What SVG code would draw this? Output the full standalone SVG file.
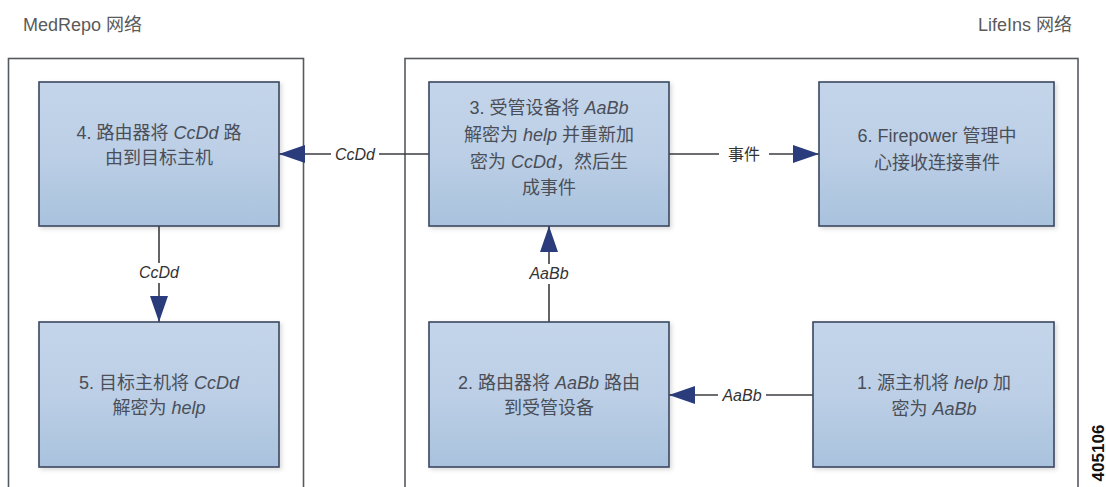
<svg xmlns="http://www.w3.org/2000/svg" width="1106" height="487" viewBox="0 0 1106 487">
<defs>
<linearGradient id="nodeFill" x1="0" y1="0" x2="0" y2="1">
<stop offset="0" stop-color="#c4d5ea"/>
<stop offset="0.5" stop-color="#bccfe6"/>
<stop offset="1" stop-color="#a9c2dd"/>
</linearGradient>
<filter id="sh" x="-5%" y="-5%" width="115%" height="115%">
<feDropShadow dx="2" dy="2" stdDeviation="2" flood-color="#000" flood-opacity="0.15"/>
</filter>
<marker id="arr" markerUnits="userSpaceOnUse" markerWidth="27" markerHeight="20" refX="26" refY="9" orient="auto">
<path d="M0,0 L26,9 L0,18 z" fill="#2a3c7c"/>
</marker>
</defs>
<style>
.cont{fill:#ffffff;stroke:#555a60;stroke-width:1.6}
.node{fill:url(#nodeFill);stroke:#3b4760;stroke-width:1.6;filter:url(#sh)}
.nt{font-family:"Liberation Sans","Noto Sans CJK SC",sans-serif;font-size:18px;fill:#4a4e58;text-anchor:middle}
.hd{font-family:"Liberation Sans","Noto Sans CJK SC",sans-serif;font-size:18px;fill:#5a5a5a}
.lbl{font-family:"Liberation Sans","Noto Sans CJK SC",sans-serif;font-size:16px;fill:#333;text-anchor:middle}
.it{font-style:italic}
.ln{stroke:#3a3d42;stroke-width:1.6;fill:none}
.bg{fill:#ffffff}
</style>
<rect width="1106" height="487" fill="#ffffff"/>

<g id="medrepo-network">
<rect class="cont" x="8.5" y="58.5" width="295" height="440"/>
<text class="hd" x="23" y="31">MedRepo 网络</text>
</g>
<g id="lifeins-network">
<rect class="cont" x="405" y="58.5" width="673" height="440"/>
<text class="hd" x="1072" y="31" text-anchor="end">LifeIns 网络</text>
</g>

<g id="connectors">
<line class="ln" x1="429" y1="154" x2="279" y2="154" marker-end="url(#arr)"/>
<rect class="bg" x="331" y="145" width="48" height="18"/>
<text class="lbl it" x="355" y="160">CcDd</text>

<line class="ln" x1="669" y1="154" x2="819" y2="154" marker-end="url(#arr)"/>
<rect class="bg" x="719" y="144" width="50" height="20"/>
<text class="lbl" x="744" y="160">事件</text>

<line class="ln" x1="159" y1="226" x2="159" y2="322" marker-end="url(#arr)"/>
<rect class="bg" x="134" y="263" width="50" height="20"/>
<text class="lbl it" x="159" y="278">CcDd</text>

<line class="ln" x1="549" y1="322" x2="549" y2="226" marker-end="url(#arr)"/>
<rect class="bg" x="524" y="264" width="50" height="20"/>
<text class="lbl it" x="549" y="279">AaBb</text>

<line class="ln" x1="813" y1="395" x2="669" y2="395" marker-end="url(#arr)"/>
<rect class="bg" x="718" y="386" width="48" height="18"/>
<text class="lbl it" x="742" y="401">AaBb</text>
</g>

<g id="node4">
<rect class="node" x="39" y="82" width="240" height="144"/>
<text class="nt" x="159" y="139">4. 路由器将 <tspan class="it">CcDd</tspan> 路</text>
<text class="nt" x="159" y="164">由到目标主机</text>
</g>
<g id="node3">
<rect class="node" x="429" y="82" width="240" height="144"/>
<text class="nt" x="549" y="114">3. 受管设备将 <tspan class="it">AaBb</tspan></text>
<text class="nt" x="549" y="141">解密为 <tspan class="it">help</tspan> 并重新加</text>
<text class="nt" x="549" y="168">密为 <tspan class="it">CcDd</tspan>，然后生</text>
<text class="nt" x="549" y="194">成事件</text>
</g>
<g id="node6">
<rect class="node" x="819" y="82" width="235" height="144"/>
<text class="nt" x="937" y="142">6. Firepower 管理中</text>
<text class="nt" x="937" y="169">心接收连接事件</text>
</g>
<g id="node5">
<rect class="node" x="39" y="322" width="240" height="145"/>
<text class="nt" x="159" y="389">5. 目标主机将 <tspan class="it">CcDd</tspan></text>
<text class="nt" x="159" y="414">解密为 <tspan class="it">help</tspan></text>
</g>
<g id="node2">
<rect class="node" x="429" y="322" width="240" height="145"/>
<text class="nt" x="549" y="389">2. 路由器将 <tspan class="it">AaBb</tspan> 路由</text>
<text class="nt" x="549" y="414">到受管设备</text>
</g>
<g id="node1">
<rect class="node" x="813" y="322" width="241" height="145"/>
<text class="nt" x="934" y="389">1. 源主机将 <tspan class="it">help</tspan> 加</text>
<text class="nt" x="934" y="415">密为 <tspan class="it">AaBb</tspan></text>
</g>

<text x="1104" y="453" transform="rotate(-90 1104 453)" font-family="Liberation Sans, sans-serif" font-size="17" font-weight="bold" fill="#111" text-anchor="middle">405106</text>
</svg>
